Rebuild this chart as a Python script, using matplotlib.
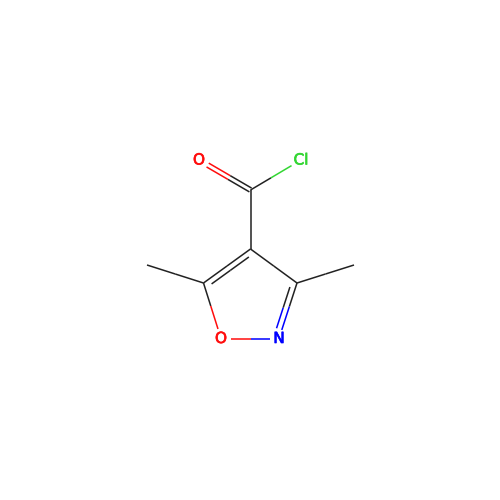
# 3,5-dimethylisoxazole-4-carbonyl chloride, 2D structure drawing
import numpy as np
import matplotlib
matplotlib.use('Agg')
import matplotlib.pyplot as plt
import matplotlib.patheffects as pe

# atoms, in picture coordinates
elements = ['C', 'C', 'C', 'O', 'N', 'C', 'C', 'C', 'O', 'Cl']
atom_x = [147, 203.5, 250.5, 221, 279, 297, 354, 250.5, 199, 301]
atom_y = [265, 283, 249, 338.5, 338.5, 283, 265, 190, 160, 160]

# bonds: first atom, second atom, order, side of the second line (0 = centred)
bond_a = [0, 1, 1, 3, 4, 5, 5, 2, 7, 7]
bond_b = [1, 2, 3, 4, 5, 2, 6, 7, 8, 9]
bond_order = [1, 2, 1, 1, 2, 1, 1, 1, 2, 1]
bond_side = [0, 1, 0, 0, -1, 0, 0, 0, 0, 0]

colors = {'C': '#222222', 'O': '#ff0d0d', 'N': '#0000ff', 'Cl': '#33d633'}
label_gap = {'C': 0, 'O': 10, 'N': 9, 'Cl': 11}

fig = plt.figure(figsize=(5, 5), dpi=100)
ax = fig.add_axes([0, 0, 1, 1])
ax.set_xlim(0, 500)
ax.set_ylim(500, 0)
ax.axis('off')


def half_line(p, q, color):
    ax.plot([p[0], q[0]], [p[1], q[1]], color=color, lw=1.1,
            solid_capstyle='butt')


def draw_segment(p, q, el_p, el_q):
    # each half of the bond takes the colour of its own atom
    mid = (p + q) / 2
    half_line(p, mid, colors[el_p])
    half_line(mid, q, colors[el_q])


for a, b, order, side in zip(bond_a, bond_b, bond_order, bond_side):
    p = np.array([atom_x[a], atom_y[a]], dtype=float)
    q = np.array([atom_x[b], atom_y[b]], dtype=float)
    length = np.hypot(*(q - p))
    unit = (q - p) / length
    normal = np.array([-unit[1], unit[0]])
    start = p + unit * label_gap[elements[a]]
    end = q - unit * label_gap[elements[b]]
    if order == 2 and side == 0:
        # centred pair, like the carbonyl
        for s in (-2.2, 2.2):
            draw_segment(p + normal * s, end + normal * s, elements[a], elements[b])
    elif order == 2:
        # main line plus a shorter one inside the ring
        draw_segment(start, end, elements[a], elements[b])
        inner_a = p + unit * (6 if elements[a] == 'C' else label_gap[elements[a]]) + normal * side * 5.5
        inner_b = q - unit * (6 if elements[b] == 'C' else label_gap[elements[b]]) + normal * side * 5.5
        draw_segment(inner_a, inner_b, elements[a], elements[b])
    else:
        draw_segment(start, end, elements[a], elements[b])

for el, x, y in zip(elements, atom_x, atom_y):
    if el != 'C':
        ax.text(x, y, el, color=colors[el], fontsize=11, ha='center',
                va='center', family='DejaVu Sans',
                path_effects=[pe.withStroke(linewidth=0.5, foreground=colors[el])])

plt.savefig('out.png', dpi=100)
